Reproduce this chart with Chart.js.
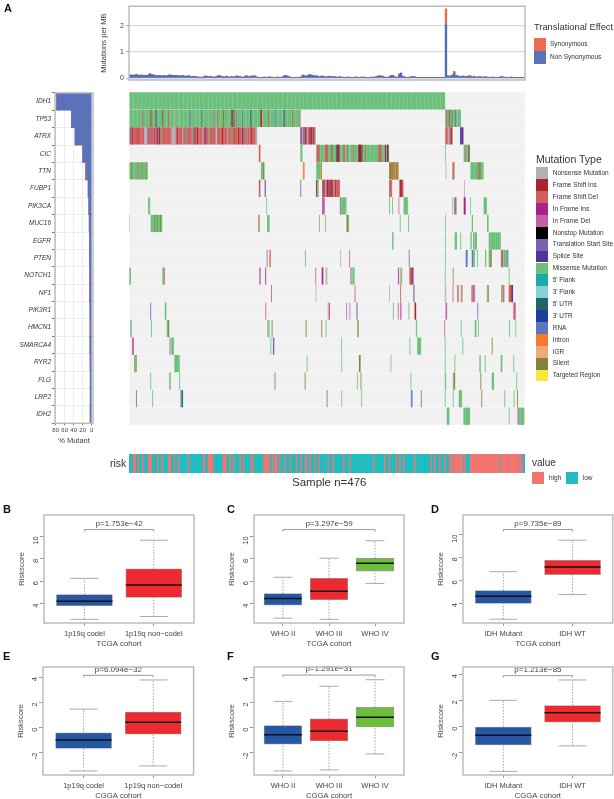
<!DOCTYPE html>
<html>
<head>
<meta charset="utf-8">
<script src="https://cdn.jsdelivr.net/npm/chart.js@4"></script>
<style>
html, body { margin: 0; padding: 0; background: #fff; }
body { position: relative; width: 614px; height: 799px; overflow: hidden; font-family: "Liberation Sans", Arial, sans-serif; }
#page { position: absolute; left: 0; top: 0; width: 614px; height: 799px; filter: blur(0.5px); }
canvas { position: absolute; }
.t { position: absolute; white-space: nowrap; color: #333; line-height: 1; }
.sw { position: absolute; }
</style>
</head>
<body>
<div id="page"></div>
<script>
// top panel: mutations per MB, one value per two samples
const nonSyn = [
  .11,.12,.10,.12,.13,.11,.10,.12,.09,.11,
  .10,.12,.16,.14,.11,.10,.09,.09,.10,.08,
  .09,.10,.08,.11,.12,.10,.09,.11,.10,.09,
  .08,.09,.10,.08,.07,.09,.08,.05,.06,.07,
  .05,.04,.03,.03,.04,.07,.08,.05,.06,.05,
  .04,.03,.06,.08,.09,.06,.05,.04,.07,.05,
  .03,.06,.05,.04,.08,.07,.05,.04,.03,.06,
  .09,.05,.04,.07,.06,.08,.05,.03,.03,.02,
  .03,.04,.03,.02,.05,.03,.02,.02,.03,.04,
  .02,.03,.05,.08,.09,.07,.04,.02,.03,.02,
  .03,.02,.03,.05,.11,.09,.07,.10,.13,.12,
  .10,.08,.09,.06,.05,.07,.08,.05,.04,.06,
  .07,.05,.04,.06,.04,.03,.05,.04,.03,.02,
  .03,.04,.03,.02,.02,.03,.04,.03,.02,.03,
  .04,.03,.02,.03,.02,.03,.04,.03,.05,.07,
  .09,.08,.06,.04,.03,.02,.04,.09,.11,.05,
  .03,.04,.15,.19,.06,.05,.03,.02,.03,.05,
  .06,.05,.03,.02,.03,.02,.02,.03,.02,.02,
  .02,.02,.02,.02,.02,.02,.02,.02,.02,.02,
  2.05,.09,.07,.08,.12,.20,.09,.08,.07,.06,
  .08,.05,.06,.04,.07,.05,.04,.06,.03,.04,
  .05,.04,.03,.04,.05,.03,.02,.03,.04,.02,
  .02,.03,.02,.06,.05,.03,.03,.02,.02,.04,
  .03,.02,.03,.02,.02,.03,.02,.02
];
const syn = [
  0,.01,.02,0,.01,.02,0,.01,0,.01,
  0,0,.02,.01,.03,.02,.01,0,0,.01,
  0,.01,0,0,.01,.02,0,0,.01,0,
  0,.01,0,0,0,.01,0,0,.01,0,
  0,0,.01,0,0,.01,0,0,0,.01,
  0,.01,0,.01,.01,0,0,0,.01,0,
  0,0,.01,0,0,.02,0,.01,0,0,
  .01,0,.03,.02,.03,.01,0,0,0,.01,
  0,0,0,.01,0,0,0,0,0,0,
  0,0,.01,.03,.02,0,.01,0,0,0,
  0,0,0,.01,.02,0,.01,0,.02,0,
  .01,0,0,.02,0,.01,0,0,.01,0,
  .01,.02,.01,0,.01,0,.01,0,.01,0,
  0,0,.01,0,0,0,.01,0,0,.01,
  0,.01,0,0,0,.01,0,0,.01,.02,
  .01,0,.02,.01,0,0,.03,.02,0,.02,
  0,0,.02,0,.01,0,0,0,.01,0,
  0,.01,0,0,0,0,0,0,0,0,
  0,0,0,0,0,0,0,0,0,0,
  .60,.01,0,.02,.01,.06,.01,.02,0,.01,
  0,.01,.02,.03,.04,.03,.02,.01,0,.01,
  0,.02,.01,0,0,.01,0,0,0,.01,
  0,0,0,.01,0,0,.01,0,0,0,
  .01,0,0,0,.01,0,0,0
];
const topTicks = [0, 1, 2];

// mutation types: [key, label, colour]
const mutationTypes = [
  ['NS', 'Nonsense Mutation', '#b1b1b5'],
  ['FSI', 'Frame Shift Ins', '#a6282d'],
  ['FSD', 'Frame Shift Del', '#d25f60'],
  ['IFI', 'In Frame Ins', '#a5238c'],
  ['IFD', 'In Frame Del', '#c162a9'],
  ['NST', 'Nonstop Mutation', '#000000'],
  ['TS', 'Translation Start Site', '#7a63ae'],
  ['SP', 'Splice Site', '#50349a'],
  ['MS', 'Missense Mutation', '#6cc07c'],
  ['F5', "5' Flank", '#1aaaa8'],
  ['F3', "3' Flank", '#86d2da'],
  ['U5', "5' UTR", '#236464'],
  ['U3', "3' UTR", '#1e3f9c'],
  ['RNA', 'RNA', '#5b78bf'],
  ['INT', 'Intron', '#f57a2e'],
  ['IGR', 'IGR', '#f2a878'],
  ['SIL', 'Silent', '#86813a'],
  ['TGT', 'Targeted Region', '#f6e63e']
];

const genes = ['IDH1','TP53','ATRX','CIC','TTN','FUBP1','PIK3CA','MUC16','EGFR','PTEN','NOTCH1','NF1','PIK3R1','HMCN1','SMARCA4','RYR2','FLG','LRP2','IDH2'];
const pctNonSyn = [78,45,37,20,11.5,8,6.5,5,5,5,4.5,4.5,4,3.5,4,3.5,3.2,3.2,3.5];
const pctSyn = [0,0,0,0,2.5,0,0,1,0,0,0,0,0,.6,0,.3,.3,.3,0];
const pctTicks = [80, 60, 40, 20, 0];

// mutation marks per gene: [type, first sample, last sample], one sample wide if no last
const IDH1 = [['MS',0,380]];
const TP53 = [['MS',0,206],['FSD',16],['SIL',25,27],['FSD',27],['SP',32],['FSI',40],['FSD',47],['NS',54],['NS',60],['TS',73],['TS',87],['IFD',101],['FSD',106],['SIL',113,114.5],['FSI',123,125],['RNA',125],['SIL',126,127],['IFD',129],['RNA',136],['SP',146],['FSI',158,160],['NS',160,161],['FSD',167],['RNA',175],['SP',186],['FSD',196],['FSD',205,206],
  ['MS',380,399],['FSD',381],['FSI',384.5],['SIL',388],['RNA',392],['NS',394]];
const ATRX = [['FSD',0,154],['RNA',2],['FSI',4,5],['FSI',10,11],['NS',18,22],['RNA',24],['TS',30],['FSI',34],['SP',36],['MS',38],['NS',51,56],['FSI',58],['NS',64],['MS',68],['RNA',70],['MS',76],['SP',79],['FSI',82],['NS',88],['SP',91],['MS',96],['TS',100],['NS',104,106],['FSI',112],['NS',118],['MS',122],['SIL',126],['FSI',131],['SP',136],['MS',142],['FSI',147],['NS',152,154],
  ['FSD',206,224],['TS',206],['NS',208],['RNA',209,211],['FSI',212],['NS',214],['FSI',217,218],['SP',219],['FSI',221],['MS',223,224],
  ['FSD',380,389],['NS',383,385],['FSI',387],['SP',398,402]];
const CIC = [['FSD',156,158],['MS',206,208.5],
  ['MS',225,312.5],['FSD',225.5,229],['FSD',235.5,239.5],['FSI',243.5],['SP',249],['FSI',250,253],['FSD',257.5,259.5],['FSD',262],['NS',265],['FSD',269.5],['FSI',275.5,280.5],['SP',277],['FSD',284],['FSD',299.5,303.5],['FSD',307.5,309],['SP',308],['FSI',310,312],
  ['MS',380],['MS',402.3,410],['FSD',404,405],['NS',406,407],['FSI',408]];
const TTN = [['MS',0,22.5],['SIL',3],['FSD',10],['SIL',15],['SIL',20],['MS',158.5,163],['SIL',161],['INT',209,211],['MS',225,232],['INT',231,232],
  ['SIL',312.7,324],['INT',317,319],['MS',320],['INT',322],['NS',380.5],['FSD',388.7,391],['SIL',390],
  ['MS',410.3,426.3],['SIL',419],['FSD',420.5],['SIL',421,422.5]];
const FUBP1 = [['FSD',156,158],['TS',163,164.5],['TS',206,207],['FSI',224.7,226],['MS',226,228],
  ['FSD',232,253.5],['SP',234],['NS',236],['FSI',238,240],['SP',241],['FSI',243,245],['NS',246],['FSI',248],
  ['FSD',312.7,316.3],['FSD',324.7,330],['FSI',326,328],['NS',402.7]];
const PIK3CA = [['MS',23,25.5],['MS',165],['IFD',232,235.5],['MS',253.5,261.5],['IFD',253.5,254.5],['MS',312.7],['MS',316.3],['IFD',324],['MS',330,335.5],['MS',388.7],['TS',391,392.5],['FSI',392.5,393.5],['IFI',402.3,404.8],['MS',410],['MS',426.3,430.3]];
const MUC16 = [['MS',0,1],['MS',26,40],['SIL',30],['SIL',34],['SIL',37.5],['SIL',155.5,157],['MS',166,169],['MS',228.3],['MS',235.5],['SIL',261.5,263.5],['MS',263.5,264.7],['MS',325.5],['MS',335.5],['MS',380],['MS',412,413.5],['MS',430.3,432.3]];
const EGFR = [['MS',316.3,318],['MS',380],['MS',391.5,394.3],['MS',398.3],['MS',410.3,412],['MS',413.5,418.3],['NS',415,416],['MS',432.3,447]];
const PTEN = [['RNA',165.5],['INT',168.7,169.7],['FSD',169.7,170.7],['MS',211.5],['NS',254],['FSD',264.7],['RNA',336.3],['MS',380],['RNA',404.7,407],['RNA',412,414],['MS',414,416],['MS',418.3],['MS',428,429.5],['MS',432.3,434],['SIL',434,436],['FSD',447,449],['FSI',449,450],['MS',450,452],['MS',452,454.5],['RNA',454.5,456]];
const NOTCH1 = [['MS',.4,2.4],['MS',40,42],['FSD',42,43],['IFD',156.6,158.3],['IFD',163.5,165],['IFD',224],['IFI',231.6,233.6],['MS',236.4,237.4],['NS',237.4,238.4],['NS',265.6,268.5],['MS',268.5,271.2],['IFD',323.2,324.8],['SIL',326.4,327.4],['MS',327.4,328.4],['FSD',337,339],['FSI',339,341],['SP',341,342],['MS',379.6],['SIL',389.2],['MS',456.4]];
const NF1 = [['FSD',170.7],['NS',224.4],['FSD',271.2],['NS',312.8],['FSD',326],['SP',342],['NS',379.6,381.2],['FSD',389],['FSD',394.4,395.4],['FSI',395.4,396],['FSD',398.8,400],['SIL',400,400.8],['FSD',411.6,413.2],['IFD',413.2,416],['MS',430,431.2],['SIL',431.2,432.4],['MS',447.2,449.2],['FSD',449.2,451.2],['FSD',456.4,459.2],['FSI',459.2,460.4],['SP',460.4,461.6]];
const PIK3R1 = [['TS',25.6],['MS',43,45],['FSD',164],['NS',238.8,240.2],['FSD',240.2,241.6],['IFD',261.2],['IFD',265],['NS',272.8,274],['TS',274,274.8],['MS',317.2],['IFD',323.2],['IFD',326,327.6],['MS',336],['FSI',343.2,345.2],['IFD',380.4,382.4],['TS',418.8],['FSD',462,464],['IFD',464,465]];
const HMCN1 = [['MS',1.5,2.5],['NS',2.5,3.6],['MS',26.4],['MS',45.3,47],['SIL',47,48.4],['NS',166,167.5],['MS',167.5,169],['SIL',171.5],['SIL',212.4],['SIL',231.2],['MS',236.4],['SIL',274.4,276],['MS',344.8,346.4],['IFD',379],['MS',398.8],['MS',415.6,417.6],['MS',419.6],['MS',456.8],['MS',464.4]];
const SMARCA4 = [['IFD',3.6,6],['NS',48.4,51],['MS',51,54],['MS',170],['TS',173,174.7],['MS',254.8],['MS',337.2],['MS',346.4,351.2],['MS',379.6],['MS',400.8],['SIL',436]];
const RYR2 = [['MS',6,8],['SIL',8,9.2],['MS',54.4,61],['MS',213.6],['MS',255.2],['SIL',276.4,278.4],['MS',314.4],['MS',379.6],['MS',391.2],['MS',421.2,422.8],['MS',427.6],['MS',446.8,448.8],['MS',462]];
const FLG = [['MS',25.6],['MS',48.4,50.4],['MS',60.4],['MS',174.7,176],['NS',176,176.7],['SIL',211.2],['MS',274],['SIL',278.4],['MS',338.4],['MS',379.6,381.2],['MS',389.2,390.5],['SIL',390.5,392],['SIL',422.4],['MS',436,438.8],['MS',465.6]];
const LRP2 = [['SIL',8.4],['MS',28],['MS',61.7,63],['U5',63,64],['U3',64,65],['SIL',237.6],['MS',255.2],['MS',279.2],['RNA',338.8,340.8],['SIL',350.8],['MS',379.6],['MS',389.2],['MS',396.4,400.4],['SIL',423.6],['MS',451.2],['MS',462.4],['SIL',466.4]];
const IDH2 = [['MS',382,385.2],['MS',402,410],['MS',456.4],['IFI',467.2],['MS',468.4,475.2]];
const rowMarks = [IDH1,TP53,ATRX,CIC,TTN,FUBP1,PIK3CA,MUC16,EGFR,PTEN,NOTCH1,NF1,PIK3R1,HMCN1,SMARCA4,RYR2,FLG,LRP2,IDH2];

// risk strip: runs of high-risk samples, the rest is low
const riskHigh = [[5,8],[11,12],[16,17],[23,27],[34,35],[39,40],[47,50],[54,55],[59,60],[71,72],[89,91],[95,101],[113,117],[121,122],[125,126],[133,134],[137,138],[146,147],[149,150],[162,169],[172,173],[175,178],[181,182],[187,188],[193,194],[201,202],[206,207],[212,214],[217,218],[223,224],[228,229],[239,240],[245,246],[257,258],[265,266],[294,295],[307,308],[313,314],[321,322],[325,326],[330,331],[343,344],[363,364],[367,368],[373,374],[379,380],[385,386],[387,388],[389,391],[392,401],[403,404],[410,445],[447,456],[457,469],[470,471],[472,473]];

// boxplots
const catCodel = ['1p19q codel', '1p19q non−codel'];
const catWho = ['WHO II', 'WHO III', 'WHO IV'];
const catIdh = ['IDH Mutant', 'IDH WT'];
const tcgaTicks = [4, 6, 8, 10];
const cggaTicks = [-2, 0, 2, 4];
const colTwo = ['#2557a5', '#ee2a30'];
const colThree = ['#2557a5', '#ee2a30', '#6dbd3c'];

const loB = [2.6, 2.85], q1B = [3.8, 4.55], medB = [4.2, 5.65], q3B = [4.8, 7.1], hiB = [6.25, 9.65];
const loC = [2.7, 2.6, 5.8], q1C = [3.85, 4.35, 6.9], medC = [4.45, 5.1, 7.6], q3C = [4.9, 6.25, 8.05], hiC = [6.35, 8.05, 9.6];
const loD = [2.6, 4.75], q1D = [3.97, 6.5], medD = [4.6, 7.15], q3D = [5.1, 7.75], hiD = [6.75, 9.5];
const loE = [-3.45, -3.05], q1E = [-1.67, -.53], medE = [-1, .42], q3E = [-.42, 1.22], hiE = [1.46, 3.77];
const loF = [-3.45, -3.37, -2.1], q1F = [-1.33, -1.06, 0], medF = [-.58, -.29, .82], q3F = [.16, .69, 1.59], hiF = [2.07, 3.27, 3.79];
const loG = [-3.42, -1.48], q1G = [-1.4, .33], medG = [-.66, 1.05], q3G = [0, 1.6], hiG = [2, 3.55];

const page = document.getElementById('page');
const greyText = '#444';
const frameGrey = '#bcbcbc';
const font = '"Liberation Sans", Arial, sans-serif';
Chart.defaults.font.family = font;
Chart.defaults.animation = false;

function addCanvas(x, y, w, h) {
  const c = document.createElement('canvas');
  c.width = w; c.height = h;
  c.style.left = x + 'px'; c.style.top = y + 'px';
  c.style.width = w + 'px'; c.style.height = h + 'px';
  page.appendChild(c);
  return c.getContext('2d');
}

function addText(txt, x, y, size, opts) {
  const d = document.createElement('div');
  d.className = 't';
  d.textContent = txt;
  d.style.left = x + 'px'; d.style.top = y + 'px';
  d.style.fontSize = size + 'px';
  if (opts) Object.assign(d.style, opts);
  page.appendChild(d);
}

function addSwatch(x, y, w, h, color) {
  const d = document.createElement('div');
  d.className = 'sw';
  d.style.cssText = `left:${x}px;top:${y}px;width:${w}px;height:${h}px;background:${color}`;
  page.appendChild(d);
}

const framePlugin = {
  id: 'frame',
  afterDraw(chart) {
    const a = chart.chartArea, c = chart.ctx;
    c.save();
    c.strokeStyle = frameGrey;
    c.lineWidth = 1.5;
    c.strokeRect(a.left, a.top, a.right - a.left, a.bottom - a.top);
    c.restore();
  }
};

// top bar chart
new Chart(addCanvas(96, 0, 434, 90), {
  type: 'bar',
  data: {
    datasets: [
      { data: nonSyn.map((y, i) => ({ x: i * 2 + 1, y })), backgroundColor: '#4f6cbb', barThickness: 1.7, stack: 's' },
      { data: syn.map((y, i) => ({ x: i * 2 + 1, y })), backgroundColor: '#ee6a50', barThickness: 1.7, stack: 's' }
    ]
  },
  options: {
    responsive: false,
    layout: { padding: { top: 1, right: 5, bottom: 10 } },
    plugins: { legend: { display: false }, tooltip: { enabled: false } },
    scales: {
      x: { type: 'linear', offset: false, min: 0, max: 476, stacked: true, display: false },
      y: {
        stacked: true, min: -.07, max: 2.75,
        afterBuildTicks: s => { s.ticks = topTicks.map(value => ({ value })); },
        afterFit: s => { s.width = 33; },
        grid: { color: '#dcdcdc', lineWidth: 1.3, tickLength: 3, tickColor: '#777', tickWidth: .7 },
        border: { display: false },
        ticks: { color: greyText, font: { size: 7 }, padding: 2 },
        title: { display: true, text: 'Mutations per MB', color: greyText, font: { size: 7.6 }, padding: { top: 3, bottom: 0 } }
      }
    }
  },
  plugins: [framePlugin]
});

// left bars
new Chart(addCanvas(0, 88, 100, 362), {
  type: 'bar',
  data: {
    labels: genes,
    datasets: [
      { data: pctNonSyn, backgroundColor: '#5b72bb', categoryPercentage: 1, barPercentage: 1 },
      { data: pctSyn, backgroundColor: '#d9605a', categoryPercentage: 1, barPercentage: 1 }
    ]
  },
  options: {
    indexAxis: 'y',
    responsive: false,
    layout: { padding: { top: 4.3, right: 7, bottom: 5 } },
    plugins: { legend: { display: false }, tooltip: { enabled: false } },
    scales: {
      x: {
        stacked: true, reverse: true, min: -2.9, max: 81.5,
        afterBuildTicks: s => { s.ticks = pctTicks.map(value => ({ value })); },
        afterFit: s => { s.height = 21.7; },
        grid: { color: '#ececec', tickLength: 2, tickColor: '#777' },
        border: { display: false },
        ticks: { color: greyText, font: { size: 6 }, padding: 1, maxRotation: 0, minRotation: 0, autoSkip: false },
        title: { display: true, text: '% Mutant', color: greyText, font: { size: 7.5 }, padding: 0 }
      },
      y: {
        stacked: true,
        afterFit: s => { s.width = 55; },
        grid: { color: '#ececec', tickLength: 3, tickColor: '#777' },
        border: { display: false },
        ticks: { color: '#333', font: { size: 6.5, style: 'italic' }, padding: 1, autoSkip: false }
      }
    }
  },
  plugins: [framePlugin]
});

// oncoplot cells
const typeColor = Object.fromEntries(mutationTypes.map(t => [t[0], t[2]]));
const marks = [];
rowMarks.forEach((row, r) => row.forEach(m => {
  marks.push({ x: [m[1], m[2] === undefined ? m[1] + 1 : m[2]], y: genes[r], type: m[0] });
}));
new Chart(addCanvas(129, 92, 396, 333), {
  type: 'bar',
  data: {
    labels: genes,
    datasets: [
      { data: marks, backgroundColor: c => typeColor[c.raw.type], grouped: false, order: 1, categoryPercentage: 1, barPercentage: .985 },
      { data: genes.map(y => ({ x: [0, 476], y })), backgroundColor: '#f1f1f1', grouped: false, order: 2, categoryPercentage: 1, barPercentage: .985 }
    ]
  },
  options: {
    indexAxis: 'y',
    responsive: false,
    plugins: { legend: { display: false }, tooltip: { enabled: false } },
    scales: {
      x: {
        min: 0, max: 476,
        afterBuildTicks: s => { s.ticks = Array.from({ length: 96 }, (v, i) => ({ value: i * 5 })); },
        afterFit: s => { s.height = 0; },
        grid: { color: 'rgba(255,255,255,.16)', lineWidth: .7, z: 1, drawTicks: false },
        border: { display: false },
        ticks: { display: false }
      },
      y: { display: false }
    }
  }
});

// risk strip
new Chart(addCanvas(129, 454, 396, 19), {
  type: 'bar',
  data: {
    labels: ['risk'],
    datasets: [
      { data: riskHigh.map(r => ({ x: r, y: 'risk' })), backgroundColor: '#f4756f', grouped: false, order: 1, categoryPercentage: 1, barPercentage: 1 },
      { data: [{ x: [0, 476], y: 'risk' }], backgroundColor: '#1fbcc0', grouped: false, order: 2, categoryPercentage: 1, barPercentage: 1 }
    ]
  },
  options: {
    indexAxis: 'y',
    responsive: false,
    plugins: { legend: { display: false }, tooltip: { enabled: false } },
    scales: { x: { min: 0, max: 476, display: false }, y: { display: false } }
  }
});

// whiskers, medians and the p-value bracket, placed through the chart scales
const boxParts = {
  id: 'boxParts',
  afterDatasetsDraw(chart, args, o) {
    const c = chart.ctx, xs = chart.scales.x, ys = chart.scales.y;
    const capHalf = o.capHalf, boxHalf = o.boxHalf;
    c.save();
    o.lo.forEach((lo, i) => {
      const x = xs.getPixelForValue(i + 1);
      c.strokeStyle = '#8a8a8a';
      c.lineWidth = .8;
      c.setLineDash([1.5, 1.5]);
      c.beginPath();
      c.moveTo(x, ys.getPixelForValue(lo)); c.lineTo(x, ys.getPixelForValue(o.q1[i]));
      c.moveTo(x, ys.getPixelForValue(o.q3[i])); c.lineTo(x, ys.getPixelForValue(o.hi[i]));
      c.stroke();
      c.setLineDash([]);
      c.strokeStyle = '#aaa';
      c.lineWidth = 1;
      c.beginPath();
      [lo, o.hi[i]].forEach(v => {
        c.moveTo(x - capHalf, ys.getPixelForValue(v)); c.lineTo(x + capHalf, ys.getPixelForValue(v));
      });
      c.stroke();
      c.strokeStyle = '#111';
      c.lineWidth = 1.5;
      c.beginPath();
      c.moveTo(x - boxHalf, ys.getPixelForValue(o.med[i])); c.lineTo(x + boxHalf, ys.getPixelForValue(o.med[i]));
      c.stroke();
    });
    const bx0 = xs.getPixelForValue(1), bx1 = xs.getPixelForValue(o.lo.length), by = ys.getPixelForValue(o.bracket);
    c.strokeStyle = '#999';
    c.lineWidth = 1;
    c.beginPath();
    c.moveTo(bx0, by + 2); c.lineTo(bx0, by); c.lineTo(bx1, by); c.lineTo(bx1, by + 2);
    c.stroke();
    c.fillStyle = greyText;
    c.font = '8px ' + font;
    c.textAlign = 'center';
    c.textBaseline = 'bottom';
    c.fillText(o.label, (bx0 + bx1) / 2, by - 2);
    c.restore();
  }
};

function boxPanel(p) {
  const left = p.x0 - 30, top = p.y0 - 10;
  const w = Math.ceil(p.x1 - left) + 2;
  const h = Math.ceil(p.y1 - top) + 26;
  new Chart(addCanvas(Math.round(left), Math.round(top), w, h), {
    type: 'bar',
    data: {
      datasets: [{
        data: p.q1.map((q, i) => ({ x: i + 1, y: [q, p.q3[i]] })),
        backgroundColor: p.colors,
        borderColor: '#9a9a9a',
        borderWidth: .8,
        borderSkipped: false,
        barThickness: p.boxW
      }]
    },
    options: {
      responsive: false,
      layout: { padding: { top: 10, right: w - (p.x1 - left) } },
      plugins: {
        legend: { display: false }, tooltip: { enabled: false },
        boxParts: { lo: p.lo, q1: p.q1, med: p.med, q3: p.q3, hi: p.hi, capHalf: p.boxW / 4, boxHalf: p.boxW / 2, bracket: p.bracket, label: p.label }
      },
      scales: {
        x: {
          type: 'linear', offset: false, min: p.xr[0], max: p.xr[1],
          afterBuildTicks: s => { s.ticks = p.cats.map((c, i) => ({ value: i + 1 })); },
          afterFit: s => { s.height = 26; },
          grid: { offset: false, drawOnChartArea: false, tickLength: 3, tickColor: '#999' },
          border: { display: false },
          ticks: { color: greyText, font: { size: 7.5 }, padding: 3, maxRotation: 0, minRotation: 0, autoSkip: false, callback: (v, i) => p.cats[i] },
          title: { display: true, text: p.xTitle, color: greyText, font: { size: 7.7 }, padding: 0 }
        },
        y: {
          min: p.yr[0], max: p.yr[1],
          afterBuildTicks: s => { s.ticks = p.ticks.map(value => ({ value })); },
          afterFit: s => { s.width = 30; },
          grid: { drawOnChartArea: false, tickLength: 4, tickColor: '#999' },
          border: { display: false },
          ticks: { color: greyText, font: { size: 7.5 }, padding: 4, minRotation: 90, maxRotation: 90, autoSkip: false },
          title: { display: true, text: 'Riskscore', color: greyText, font: { size: 7.7 }, padding: { top: 3, bottom: 0 } }
        }
      }
    },
    plugins: [boxParts, framePlugin]
  });
}

const xTwo = [.417, 2.58], xThree = [.372, 3.628];
boxPanel({ x0: 44.3, x1: 194.3, y0: 515, y1: 622.7, xr: xTwo, yr: [2.27, 11.9], ticks: tcgaTicks, cats: catCodel, colors: colTwo, boxW: 56, lo: loB, q1: q1B, med: medB, q3: q3B, hi: hiB, bracket: 10.6, label: 'p=1.753e−42', xTitle: 'TCGA cohort' });
boxPanel({ x0: 254.3, x1: 404.3, y0: 515, y1: 622.7, xr: xThree, yr: [2.27, 11.9], ticks: tcgaTicks, cats: catWho, colors: colThree, boxW: 37.7, lo: loC, q1: q1C, med: medC, q3: q3C, hi: hiC, bracket: 10.6, label: 'p=3.297e−59', xTitle: 'TCGA cohort' });
boxPanel({ x0: 463.3, x1: 613, y0: 515, y1: 622.7, xr: xTwo, yr: [2.27, 11.7], ticks: tcgaTicks, cats: catIdh, colors: colTwo, boxW: 56, lo: loD, q1: q1D, med: medD, q3: q3D, hi: hiD, bracket: 10.43, label: 'p=9.735e−89', xTitle: 'TCGA cohort' });
boxPanel({ x0: 42.7, x1: 193.3, y0: 667.3, y1: 775, xr: xTwo, yr: [-3.77, 4.8], ticks: cggaTicks, cats: catCodel, colors: colTwo, boxW: 56, lo: loE, q1: q1E, med: medE, q3: q3E, hi: hiE, bracket: 4.14, label: 'p=6.094e−32', xTitle: 'CGGA cohort' });
boxPanel({ x0: 254.3, x1: 404.3, y0: 667.3, y1: 775, xr: xThree, yr: [-3.77, 4.8], ticks: cggaTicks, cats: catWho, colors: colThree, boxW: 37.7, lo: loF, q1: q1F, med: medF, q3: q3F, hi: hiF, bracket: 4.16, label: 'p=1.291e−31', xTitle: 'CGGA cohort' });
boxPanel({ x0: 463.3, x1: 613, y0: 667.3, y1: 775, xr: xTwo, yr: [-3.7, 4.54], ticks: cggaTicks, cats: catIdh, colors: colTwo, boxW: 56, lo: loG, q1: q1G, med: medG, q3: q3G, hi: hiG, bracket: 3.88, label: 'p=1.213e−85', xTitle: 'CGGA cohort' });

// panel letters
[['A', 4, 3], ['B', 3, 504], ['C', 227, 504], ['D', 431, 504], ['E', 3, 651], ['F', 227, 651], ['G', 431, 651]].forEach(l => {
  addText(l[0], l[1], l[2], 11, { fontWeight: 'bold', color: '#111' });
});

// legends
addText('Translational Effect', 534, 23, 9.3);
addSwatch(534, 38, 12, 12.5, '#ee6a50');
addSwatch(534, 51, 12, 12.5, '#5b72bb');
addText('Synonymous', 550, 41, 6.5);
addText('Non Synonymous', 550, 54, 6.5);

addText('Mutation Type', 536, 153.5, 10.5);
mutationTypes.forEach((t, i) => {
  addSwatch(536, 167.3 + i * 11.9, 12, 11.9, t[2]);
  addText(t[1], 552.7, 170 + i * 11.9, 6.5);
});

addText('risk', 110, 458, 10.5);
addText('Sample n=476', 292, 477, 11.5);
addText('value', 532, 457.5, 10);
addSwatch(532, 471.7, 12, 12, '#f4756f');
addSwatch(565.7, 471.7, 12, 12, '#1fbcc0');
addText('high', 549, 475, 6.5);
addText('low', 582.7, 475, 6.5);
</script>
</body>
</html>
